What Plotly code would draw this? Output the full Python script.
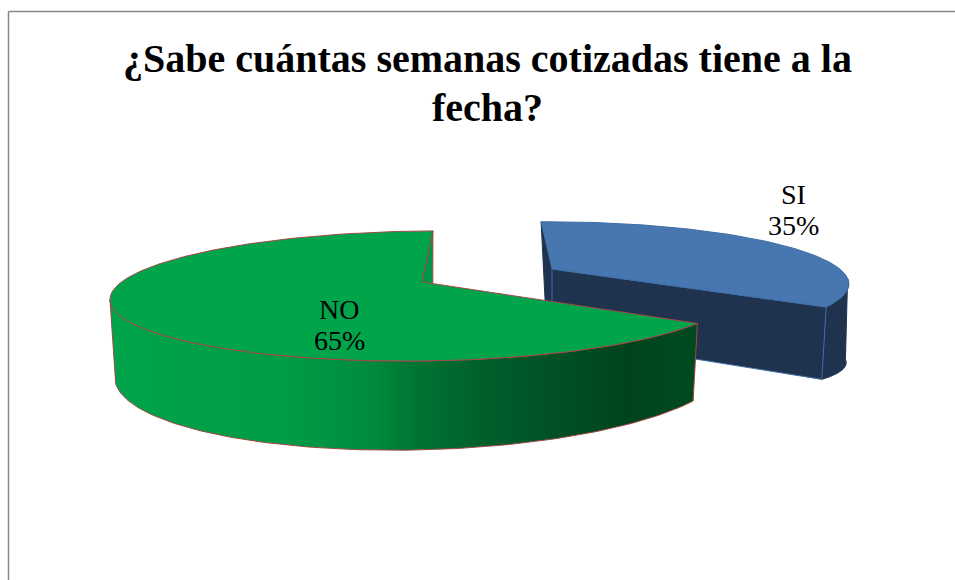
import numpy as np
import plotly.graph_objects as go

# datos del grafico
labels = ['SI', 'NO']
shares = [35, 65]
title_lines = ['¿Sabe cuántas semanas cotizadas tiene a la', 'fecha?']

W, H = 955, 580
K = 0.2154          # perspectiva
START = -87.5       # angulo donde empieza SI (grados, y hacia abajo)
SERIF = 'Liberation Serif'

# angulos de corte sacados de los porcentajes
span_si = shares[0] / sum(shares) * 360
end_si = START + span_si
silhouette = np.degrees(np.arcsin(K))
left_no = 180 - silhouette


def project(deg, face):
    """Pasa un angulo del disco a la posicion del borde en el eje."""
    t = np.radians(np.asarray(deg, dtype=float))
    w = 1 - K * np.sin(t)
    u = np.cos(t) / w
    v = np.sin(t) / w
    cx, cy, ax, by, shear_x, shear_y = face
    return cx + ax * u + shear_x * v, cy + by * v + shear_y * u


def arc(a, b, n=120):
    return np.linspace(a, b, n)


def poly(fig, xs, ys, color=None, line=None, gradient=None):
    trace = go.Scatter(x=xs, y=ys, mode='lines', fill='toself', hoverinfo='skip',
                       line=dict(color=line or color, width=1))
    if gradient:
        trace.fillgradient = dict(type='horizontal', colorscale=gradient)
    else:
        trace.fillcolor = color
    fig.add_trace(trace)


# caras: centro x, centro y, radio x, radio y, corte x, corte y
si_top = (552, 269, 283, 57.3, 25.6, -3.5)
si_bot = (552, 336, 282, 44, 20.7, 13)
no_top = (422, 282, 304.7, 62, 0, -3.5)
no_bot = (422, 353, 300, 76, 0, -7.3)

BLUE = '#4776B0'
BLUE_DARK = '#1F334F'
BLUE_LINE = '#3F6FA8'
GREEN = '#00A44A'
GREEN_WALL = '#00964A'
RED_LINE = '#A04848'

green_side = [[0, '#00A44A'], [0.3, '#009C46'], [0.45, '#008A3E'], [0.52, '#007434'],
              [0.63, '#00602C'], [0.77, '#004F23'], [0.88, '#00431D'], [1, '#004A20']]

fig = go.Figure()

# SI: pared interior, lateral, pared frontal y tapa
x0, y0 = project(START, si_top)
x1, y1 = project(START, si_bot)
poly(fig, [si_top[0], x0, x1, si_bot[0], si_top[0]], [si_top[1], y0, y1, si_bot[1], si_top[1]],
     BLUE_DARK, BLUE_DARK)

ang = arc(end_si, silhouette)
xa, ya = project(ang, si_top)
xb, yb = project(ang[::-1], si_bot)
poly(fig, np.r_[xa, xb, xa[0]], np.r_[ya, yb, ya[0]], BLUE_DARK, BLUE_DARK)

x2, y2 = project(end_si, si_top)
x3, y3 = project(end_si, si_bot)
poly(fig, [si_top[0], x2, x3, si_bot[0], si_top[0]], [si_top[1], y2, y3, si_bot[1], si_top[1]],
     BLUE_DARK, BLUE_LINE)

ang = arc(START, end_si)
xa, ya = project(ang, si_top)
poly(fig, np.r_[si_top[0], xa, si_top[0]], np.r_[si_top[1], ya, si_top[1]], BLUE, BLUE_LINE)

# NO: pared de la muesca, lateral con degradado y tapa
no_end = 360 + START
x0, y0 = project(no_end, no_top)
x1, y1 = project(no_end, no_bot)
poly(fig, [no_top[0], x0, x1, no_bot[0], no_top[0]], [no_top[1], y0, y1, no_bot[1], no_top[1]],
     GREEN_WALL, RED_LINE)

ang = arc(end_si, left_no)
xa, ya = project(ang, no_top)
xb, yb = project(ang[::-1], no_bot)
poly(fig, np.r_[xa, xb, xa[0]], np.r_[ya, yb, ya[0]], line=RED_LINE, gradient=green_side)

ang = arc(end_si, no_end, 240)
xa, ya = project(ang, no_top)
poly(fig, np.r_[no_top[0], xa, no_top[0]], np.r_[no_top[1], ya, no_top[1]], GREEN, RED_LINE)

# etiquetas, una anotacion por linea para controlar el interlineado
label_pos = [(793, 194), (339, 309)]
for lab, val, (lx, ly) in zip(labels, shares, label_pos):
    for k, txt in enumerate([lab, f'{val}%']):
        fig.add_annotation(x=lx, y=ly + k * 31, text=txt, showarrow=False,
                           font=dict(family=SERIF, size=28, color='black'))

for k, txt in enumerate(title_lines):
    fig.add_annotation(x=487.5, y=58 + k * 49, text=f'<b>{txt}</b>', showarrow=False,
                       font=dict(family=SERIF, size=40, color='black'))

# borde del area del grafico
border = dict(color='#868686', width=1.5)
fig.add_shape(type='line', x0=8.5, x1=8.5, y0=11.5, y1=H, line=border)
fig.add_shape(type='line', x0=8.5, x1=W, y0=11.5, y1=11.5, line=border)

fig.update_layout(
    width=W, height=H,
    margin=dict(l=0, r=0, t=0, b=0),
    paper_bgcolor='white', plot_bgcolor='white',
    showlegend=False,
    xaxis=dict(range=[0, W], visible=False, fixedrange=True),
    yaxis=dict(range=[H, 0], visible=False, fixedrange=True),
)

fig.write_html('out.html', config=dict(displayModeBar=False),
               post_script="document.body.style.margin='0';")
